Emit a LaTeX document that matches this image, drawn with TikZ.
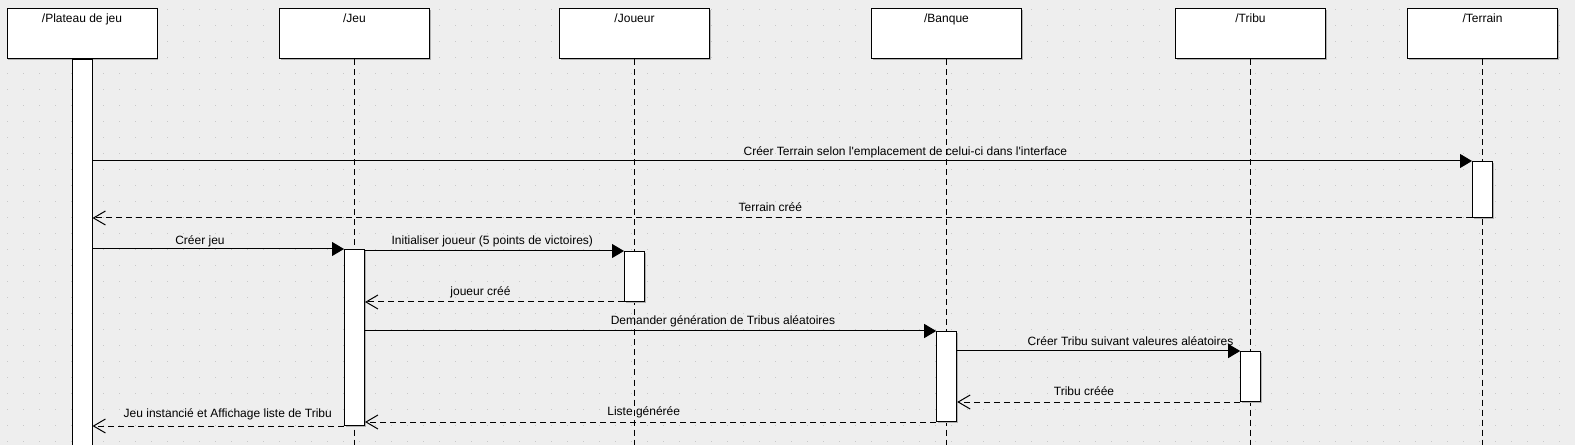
\documentclass[tikz,border=0pt]{standalone}
\usepackage{fontspec}
\setmainfont{Liberation Sans}[Ligatures=TeXOff]
\usetikzlibrary{arrows.meta,shadows}

\definecolor{fond}{HTML}{EEEEEE}
\definecolor{pointille}{HTML}{C8C8C8}

\tikzset{
	obj/.style={draw, fill=white, line width=0.75pt, minimum width=112.5pt, minimum height=37.5pt, inner sep=0pt, text height=10.5pt, text depth=27pt, font=\fontsize{9pt}{11pt}\selectfont, drop shadow={shadow xshift=1pt, shadow yshift=-1pt, fill=black!30, opacity=1}},
	act/.style={draw, fill=white, line width=0.75pt, minimum width=15pt, inner sep=0pt, anchor=north, drop shadow={shadow xshift=1pt, shadow yshift=-1pt, fill=black!30, opacity=1}},
	vie/.style={line width=0.75pt, dash pattern=on 4.5pt off 3pt},
	msg/.style={line width=0.75pt, -{Triangle[length=9pt, width=10.5pt]}},
	retour/.style={line width=0.75pt, dash pattern=on 4.5pt off 3pt, -{Straight Barb[length=9pt, width=10.5pt]}},
	lbl/.style={font=\fontsize{9pt}{11pt}\selectfont, inner sep=0pt, anchor=base}
}

\begin{document}
\begin{tikzpicture}[x=0.75pt, y=-0.75pt]
		\useasboundingbox (0,0) rectangle (1575,445);
		\fill[fond] (0,0) rectangle (1575,445);
		% grille de points
		\foreach \i in {0,...,98}
			\foreach \j in {0,...,27}
				\fill[pointille] (6.75+16*\i,8.55+16*\j) rectangle ++(1.5,1.5);
		\coordinate (bas) at (0,450);

		% objets
		\node[obj] (plateau) at (82,34) {/Plateau de jeu};
		\node[obj] (jeu) at (354.5,34) {/Jeu};
		\node[obj] (joueur) at (634.5,34) {/Joueur};
		\node[obj] (banque) at (946.5,34) {/Banque};
		\node[obj] (tribu) at (1250.5,34) {/Tribu};
		\node[obj] (terrain) at (1482.5,34) {/Terrain};

		% lignes de vie
		\draw[vie] (jeu.south) -- (jeu.south |- bas);
		\draw[vie] (joueur.south) -- (joueur.south |- bas);
		\draw[vie] (banque.south) -- (banque.south |- bas);
		\draw[vie] (tribu.south) -- (tribu.south |- bas);
		\draw[vie] (terrain.south) -- (terrain.south |- bas);

		% activations
		\node[act, minimum height=293.25pt] (aPlateau) at (82,59) {};
		\node[act, minimum height=42pt] (aTerrain) at (1482.5,161) {};
		\node[act, minimum height=132pt] (aJeu) at (354.5,249) {};
		\node[act, minimum height=37.5pt] (aJoueur) at (634.5,251) {};
		\node[act, minimum height=67.5pt] (aBanque) at (946.7,331) {};
		\node[act, minimum height=37.5pt] (aTribu) at (1250.7,351) {};

		% messages
		\draw[msg] (aPlateau.east |- aTerrain.north) -- (aTerrain.north west);
		\draw[retour] (aTerrain.south west) -- (aPlateau.east |- aTerrain.south);
		\draw[msg] (aPlateau.east |- aJeu.north) -- (aJeu.north west);
		\draw[msg] (aJeu.east |- aJoueur.north) -- (aJoueur.north west);
		\draw[retour] (aJoueur.south west) -- (aJeu.east |- aJoueur.south);
		\draw[msg] (aJeu.east |- aBanque.north) -- (aBanque.north west);
		\draw[msg] (aBanque.east |- aTribu.north) -- (aTribu.north west);
		\draw[retour] (aTribu.south west) -- (aBanque.east |- aTribu.south);
		\draw[retour] (aBanque.south west) -- (aJeu.east |- aBanque.south);
		\draw[retour] (aJeu.south west) -- (aPlateau.east |- aJeu.south);

		% libelles
		\node[lbl] (lTerrain) at (905.3,155.7) {Créer Terrain selon l'emplacement de celui-ci dans l'interface};
		\node[lbl] (lTerrainCree) at (770.3,211.7) {Terrain créé};
		\node[lbl] (lJeu) at (200,244.3) {Créer jeu};
		\node[lbl] (lInit) at (492.3,245) {Initialiser joueur (5 points de victoires)};
		\node[lbl] (lJoueurCree) at (480.5,295.7) {joueur créé};
		\node[lbl] (lDemande) at (723,325) {Demander génération de Tribus aléatoires};
		\node[lbl] (lTribu) at (1130.5,345.3) {Créer Tribu suivant valeures aléatoires};
		\node[lbl] (lTribuCree) at (1084,395.7) {Tribu créée};
		\node[lbl] (lListe) at (643.7,415.7) {Liste générée};
		\node[lbl] (lInstance) at (227.8,417.7) {Jeu instancié et Affichage liste de Tribu};
	\end{tikzpicture}
\end{document}
